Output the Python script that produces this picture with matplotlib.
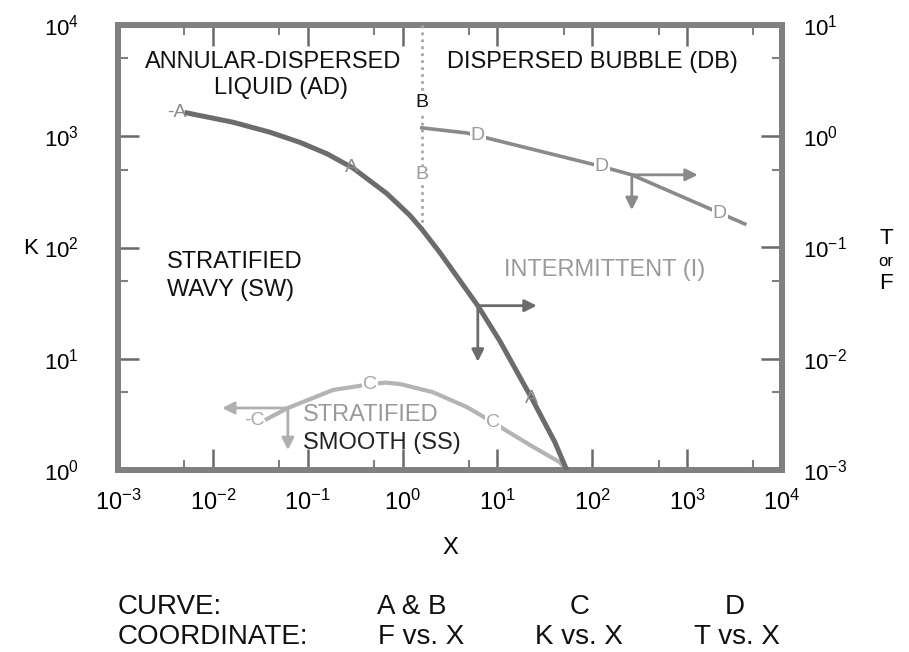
import numpy as np
import matplotlib
matplotlib.use("Agg")
import matplotlib.pyplot as plt
from matplotlib.ticker import FixedLocator, FuncFormatter, NullFormatter

plt.rcParams['font.family'] = ['Liberation Sans', 'DejaVu Sans']
plt.rcParams['mathtext.fontset'] = 'custom'
plt.rcParams['mathtext.rm'] = 'Liberation Sans'
plt.rcParams['mathtext.it'] = 'Liberation Sans:italic'
plt.rcParams['mathtext.bf'] = 'Liberation Sans:bold'

# ---- flow-regime boundaries (Taitel-Dukler map) ----
# Curve A : F vs X  (right axis)
curve_a_x = [0.00533, 0.0163, 0.040, 0.0828, 0.159, 0.299, 0.684, 1.194, 1.596,
             2.47, 6.21, 10.6, 23.6, 40.3, 53.8]
curve_a_f = [1.62, 1.337, 1.087, 0.881, 0.697, 0.519, 0.305, 0.1945, 0.146,
             0.0902, 0.030, 0.01445, 0.00423, 0.00178, 0.001]

# Curve B : F vs X  (vertical boundary, right axis)
curve_b_x = [1.596, 1.596]
curve_b_f = [10.0, 0.146]

# Curve C : K vs X  (left axis)
curve_c_x = [0.0354, 0.0618, 0.1845, 0.474, 0.661, 0.938, 2.08, 4.76, 8.95,
             12.6, 23.6, 45.4, 53.8]
curve_c_k = [2.81, 3.61, 5.24, 5.93, 6.10, 5.93, 5.01, 3.68, 2.69,
             2.24, 1.62, 1.175, 1.0]

# Curve D : T vs X  (right axis)
curve_d_x = [1.596, 4.75, 120, 261, 2208, 4045]
curve_d_t = [1.19, 1.07, 0.54, 0.45, 0.204, 0.163]

# letter markers along each curve (X positions; B by ordinate)
label_a_x = [0.292, 23.0]
label_b_f = [2.0, 0.45]
label_c_x = [0.452, 8.95]
label_d_x = [6.2, 126, 2203]

# direction arrows: origin, tip along X, tip along the ordinate
arrow_a = dict(origin=(6.21, 0.030), x_tip=26.0, y_tip=0.0094)
arrow_c = dict(origin=(0.0618, 3.61), x_tip=0.0125, y_tip=1.51)
arrow_d = dict(origin=(261.0, 0.45), x_tip=1294.0, y_tip=0.217)

x_decades = [-3, -2, -1, 0, 1, 2, 3, 4]
k_decades = [0, 1, 2, 3, 4]
tf_decades = [-3, -2, -1, 0, 1]

W, H = 909, 652
fig = plt.figure(figsize=(W / 100, H / 100), dpi=100)
ax = fig.add_axes([118 / W, 1 - 470 / H, 664 / W, 445 / H])
ax2 = ax.twinx()

for a in (ax, ax2):
    a.set_xscale('log')
    a.set_yscale('log')
ax.set_xlim(1e-3, 1e4)
ax.set_ylim(1, 1e4)
ax2.set_ylim(1e-3, 1e1)


def pow10(v, pos=None):
    return r'$\mathregular{10^{%d}}$' % int(round(np.log10(v)))


def set_log_ticks(axis, decades):
    majors = [10.0 ** d for d in decades]
    minors = [5 * 10.0 ** d for d in decades[:-1]]
    axis.set_major_locator(FixedLocator(majors))
    axis.set_minor_locator(FixedLocator(minors))
    axis.set_major_formatter(FuncFormatter(pow10))
    axis.set_minor_formatter(NullFormatter())


set_log_ticks(ax.xaxis, x_decades)
set_log_ticks(ax.yaxis, k_decades)
set_log_ticks(ax2.yaxis, tf_decades)

spine_col = '#808080'
for a in (ax, ax2):
    for s in a.spines.values():
        s.set_color(spine_col)
        s.set_linewidth(4.2)

ax.tick_params(axis='both', which='major', direction='in', length=15, width=1.8,
               color='#6a6a6a', labelsize=17, top=True, right=False)
ax.tick_params(axis='both', which='minor', direction='in', length=7, width=1.5,
               color='#808080', top=True, right=False)
ax.tick_params(axis='x', which='major', pad=14)
ax.tick_params(axis='y', which='major', pad=28, labelsize=16)
ax2.tick_params(axis='y', which='major', direction='in', length=15, width=1.8,
                color='#6a6a6a', labelsize=16, pad=15)
ax2.tick_params(axis='y', which='minor', direction='in', length=7, width=1.5,
                color='#808080')


def on_curve(xs, ys, x):
    return 10 ** np.interp(np.log10(x), np.log10(xs), np.log10(ys))


# curve C (left axis)
ax.plot(curve_c_x, curve_c_k, color='#b4b4b4', lw=3.0, solid_capstyle='butt',
        solid_joinstyle='round', zorder=3)
# curves A, B, D (right axis)
ax2.plot(curve_a_x, curve_a_f, color='#6c6c6c', lw=3.6, solid_joinstyle='round',
         zorder=4)
ax2.plot(curve_b_x, curve_b_f, color='#a8a8a8', lw=2.0, ls=(0, (1, 1.5)), zorder=3)
ax2.plot(curve_d_x, curve_d_t, color='#8a8a8a', lw=2.6, solid_joinstyle='round',
         zorder=3)

letter_kw = dict(ha='center', va='center', fontsize=14)
white = dict(facecolor='white', edgecolor='none', pad=0.5)

# A labels
ax2.text(curve_a_x[0], curve_a_f[0], '-A', ha='right', va='center', fontsize=14,
         color='#8a8a8a', zorder=5)
for xv in label_a_x:
    ax2.text(xv, on_curve(curve_a_x, curve_a_f, xv), 'A', color='#8c8c8c',
             zorder=5, **letter_kw)
# B labels
ax2.text(curve_b_x[0], label_b_f[0], 'B', color='#111111', bbox=white, zorder=5,
         **letter_kw)
ax2.text(curve_b_x[0], label_b_f[1], 'B', color='#9a9a9a', bbox=white, zorder=5,
         **letter_kw)
# C labels
ax.text(curve_c_x[0], curve_c_k[0], '-C', ha='right', va='center', fontsize=14,
        color='#a8a8a8', zorder=5)
for xv in label_c_x:
    ax.text(xv, on_curve(curve_c_x, curve_c_k, xv), 'C', color='#a8a8a8',
            bbox=white, zorder=5, **letter_kw)
# D labels
for xv in label_d_x:
    ax2.text(xv, on_curve(curve_d_x, curve_d_t, xv), 'D', color='#9a9a9a',
             bbox=white, zorder=5, **letter_kw)


def draw_arrows(a, spec, color):
    x0, y0 = spec['origin']
    props = dict(arrowstyle='-|>', color=color, lw=2.0, mutation_scale=18,
                 shrinkA=0, shrinkB=0)
    a.annotate('', xy=(spec['x_tip'], y0), xytext=(x0, y0), arrowprops=props, zorder=6)
    a.annotate('', xy=(x0, spec['y_tip']), xytext=(x0, y0), arrowprops=props, zorder=6)


draw_arrows(ax2, arrow_a, '#6c6c6c')
draw_arrows(ax, arrow_c, '#b0b0b0')
draw_arrows(ax2, arrow_d, '#8a8a8a')

# regime names
reg = dict(transform=ax.transAxes, fontsize=17, zorder=7)
ax.text(0.2334, 0.9169, 'ANNULAR-DISPERSED', ha='center', va='center', color='#111111', **reg)
ax.text(0.2455, 0.8584, 'LIQUID (AD)', ha='center', va='center', color='#111111', **reg)
ax.text(0.7139, 0.9169, 'DISPERSED BUBBLE (DB)', ha='center', va='center', color='#111111', **reg)
ax.text(0.0738, 0.4674, 'STRATIFIED', ha='left', va='center', color='#111111', **reg)
ax.text(0.0738, 0.4045, 'WAVY (SW)', ha='left', va='center', color='#111111', **reg)
ax.text(0.7334, 0.4494, 'INTERMITTENT (I)', ha='center', va='center', color='#9a9a9a', **reg)
ax.text(0.2786, 0.1236, 'STRATIFIED', ha='left', va='center', color='#9a9a9a', **reg)
ax.text(0.2786, 0.0607, 'SMOOTH (SS)', ha='left', va='center', color='#222222', **reg)


def ftext(px, py, s, **kw):
    fig.text(px / W, 1 - py / H, s, **kw)


# axis titles
ftext(31, 248, 'K', ha='center', va='center', fontsize=16)
ftext(886, 238, 'T', ha='center', va='center', fontsize=16)
ftext(886, 261, 'or', ha='center', va='center', fontsize=12)
ftext(886, 283, 'F', ha='center', va='center', fontsize=16)
ftext(450, 548, 'X', ha='center', va='center', fontsize=17)

# curve / coordinate key
key = dict(va='center', fontsize=20, color='#111111')
ftext(118, 607, 'CURVE:', ha='left', **key)
ftext(118, 637, 'COORDINATE:', ha='left', **key)
ftext(412, 607, 'A & B', ha='center', **key)
ftext(421, 637, 'F vs. X', ha='center', **key)
ftext(580, 607, 'C', ha='center', **key)
ftext(579, 637, 'K vs. X', ha='center', **key)
ftext(735, 607, 'D', ha='center', **key)
ftext(737, 637, 'T vs. X', ha='center', **key)

fig.savefig('out.png', dpi=100, facecolor='white')
